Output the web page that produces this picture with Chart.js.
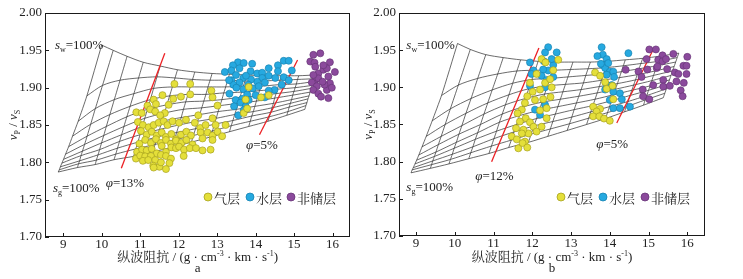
<!DOCTYPE html>
<html><head><meta charset="utf-8">
<script src="https://cdn.jsdelivr.net/npm/chart.js@4.4.0/dist/chart.umd.min.js"></script>
<style>
html,body{margin:0;padding:0;background:#fff;width:743px;height:279px;overflow:hidden}
#wa{position:absolute;left:0;top:0;width:355px;height:279px}
#wb{position:absolute;left:355px;top:0;width:388px;height:279px}
</style></head><body>
<div id="wa"><canvas id="ca"></canvas></div>
<div id="wb"><canvas id="cb"></canvas></div>
<script>
// ---------- tick labels & categories ----------
const xTicks = [9, 10, 11, 12, 13, 14, 15, 16];
const yTicks = [1.70, 1.75, 1.80, 1.85, 1.90, 1.95, 2.00];
const categories = ['气层', '水层', '非储层'];
const xTitleMain = '纵波阻抗 / (g · cm';
const panelLetters = ['a', 'b'];
const phiTextsA = ['φ=13%', 'φ=5%'];
const phiTextsB = ['φ=12%', 'φ=5%'];

// ---------- panel a : scatter ----------
const gasA = [[11.89,1.905],[12.30,1.905],[12.85,1.896],[12.88,1.887],[11.58,1.890],[11.35,1.884],[12.06,1.888],[12.30,1.891],[11.86,1.885],
[10.90,1.867],[11.04,1.866],[11.19,1.876],[11.26,1.871],[11.41,1.878],[11.39,1.868],[11.64,1.866],[11.74,1.877],[11.52,1.863],[12.51,1.863],[12.88,1.859],[13.01,1.876],
[10.94,1.854],[11.07,1.850],[11.22,1.847],[11.35,1.850],[11.48,1.853],[11.61,1.855],[11.71,1.850],[11.84,1.855],[12.01,1.853],[12.19,1.857],[12.42,1.853],[12.56,1.846],[12.70,1.850],[12.96,1.850],[13.22,1.850],
[11.02,1.842],[11.17,1.837],[11.30,1.841],[11.43,1.836],[11.56,1.840],[11.67,1.834],[11.81,1.838],[11.93,1.831],[12.06,1.837],[12.20,1.841],[12.32,1.836],[12.57,1.840],[12.75,1.840],[12.88,1.836],[13.01,1.841],[13.13,1.835],
[10.98,1.825],[11.13,1.830],[11.28,1.826],[11.41,1.831],[11.54,1.826],[11.67,1.830],[11.80,1.825],[11.93,1.829],[12.07,1.826],[12.20,1.830],[12.36,1.824],[12.62,1.832],[12.88,1.830],
[10.92,1.814],[11.05,1.817],[11.17,1.816],[11.30,1.818],[11.43,1.812],[11.56,1.822],[11.67,1.814],[11.81,1.820],[11.93,1.819],[12.01,1.821],[12.14,1.817],[12.29,1.819],[12.45,1.819],[12.62,1.816],[12.83,1.817],
[10.89,1.805],[11.00,1.809],[11.13,1.808],[11.28,1.8085],[11.39,1.803],[11.54,1.810],[11.67,1.8085],[11.80,1.805],[12.13,1.8085],
[11.07,1.802],[11.21,1.803],[11.34,1.7955],[11.50,1.794],[11.76,1.799],[11.54,1.800],[11.35,1.793],[11.67,1.791],
[13.82,1.901],[13.74,1.884],[14.14,1.887],[14.34,1.890],[13.69,1.866],[13.78,1.872]];
const waterA = [[13.54,1.934],[13.41,1.930],[13.69,1.933],[13.91,1.932],[13.58,1.926],[13.37,1.923],[13.20,1.921],[13.37,1.910],[13.49,1.917],[13.68,1.913],[13.87,1.922],[14.04,1.919],[14.17,1.920],[14.34,1.926],[14.58,1.930],[14.73,1.936],[14.86,1.936],[14.94,1.923],[14.58,1.922],[14.34,1.916],[14.17,1.913],[14.04,1.908],[13.88,1.911],[13.75,1.916],[13.58,1.907],[13.42,1.904],[13.31,1.910],[13.50,1.900],[13.68,1.898],[13.81,1.904],[13.93,1.899],[14.08,1.902],[14.24,1.907],[14.51,1.913],[14.73,1.914],[14.86,1.910],[14.68,1.904],[14.49,1.897],[14.34,1.896],[14.24,1.887],[14.00,1.890],[13.78,1.891],[13.65,1.885],[13.48,1.8835],[13.32,1.892],[13.44,1.875],[13.61,1.880],[13.74,1.875],[13.82,1.8835],[13.55,1.863],[13.69,1.870]];
const dryA = [[15.50,1.944],[15.68,1.946],[15.42,1.935],[15.53,1.9335],[15.63,1.919],[15.55,1.910],[15.46,1.907],[15.59,1.902],[15.50,1.897],[15.63,1.892],[15.70,1.888],[15.85,1.897],[15.93,1.906],[15.89,1.915],[15.76,1.924],[15.93,1.934],[16.06,1.921],[15.85,1.926],[15.76,1.930],[15.63,1.9125],[15.79,1.904],[15.50,1.917],[15.55,1.928],[15.74,1.908],[15.89,1.886],[15.98,1.900]];

// ---------- panel b : scatter ----------
const gasB = [[12.24,1.938],[12.11,1.918],[12.20,1.897],[12.33,1.906],[12.46,1.911],[12.50,1.900],[12.67,1.937],[12.47,1.887],[12.28,1.884],[12.37,1.872],[12.20,1.869],[12.07,1.883],[12.01,1.894],[11.94,1.906],[11.87,1.888],[11.81,1.879],[11.73,1.870],[11.62,1.865],[11.83,1.8585],[11.68,1.854],[11.94,1.853],[12.03,1.847],[12.24,1.847],[12.11,1.8405],[11.90,1.838],[11.77,1.843],[11.58,1.845],[11.47,1.834],[11.60,1.830],[11.73,1.838],[11.81,1.827],[11.64,1.818],[11.75,1.825],[11.87,1.819],[12.37,1.8585],[13.57,1.874],[13.75,1.871],[13.66,1.8675],[13.57,1.861],[13.73,1.861],[13.85,1.858],[14.00,1.855],[13.62,1.920],[13.75,1.9155],[13.88,1.907],[13.92,1.898],[14.07,1.902],[14.09,1.884],[12.54,1.923],[12.34,1.9335]];
const waterB = [[12.41,1.954],[12.33,1.947],[12.63,1.947],[11.94,1.9335],[12.30,1.935],[12.54,1.930],[12.03,1.9227],[12.41,1.9227],[12.28,1.924],[11.98,1.918],[12.24,1.9155],[12.37,1.910],[11.94,1.902],[12.33,1.900],[12.54,1.914],[12.33,1.8765],[12.07,1.870],[12.20,1.863],[12.50,1.938],[13.79,1.954],[13.82,1.944],[13.68,1.942],[13.92,1.938],[13.81,1.930],[13.88,1.926],[14.00,1.921],[14.09,1.921],[13.92,1.917],[14.11,1.914],[13.92,1.903],[14.05,1.903],[13.88,1.897],[14.09,1.894],[14.26,1.892],[14.00,1.883],[14.31,1.884],[14.09,1.872],[14.52,1.874],[14.26,1.872],[14.48,1.946],[13.96,1.9326],[13.77,1.9317]];
const dryB = [[15.02,1.951],[15.19,1.951],[15.36,1.943],[15.64,1.945],[16.00,1.941],[14.95,1.938],[15.25,1.937],[15.36,1.935],[14.97,1.924],[15.21,1.926],[15.48,1.9245],[15.90,1.929],[15.98,1.929],[15.68,1.920],[15.77,1.918],[15.98,1.918],[14.41,1.9236],[14.74,1.9214],[15.38,1.910],[15.72,1.908],[15.91,1.906],[14.85,1.897],[15.12,1.903],[15.38,1.901],[15.55,1.902],[14.86,1.888],[15.02,1.884],[15.83,1.896],[15.88,1.888],[15.23,1.928],[15.45,1.938],[14.82,1.914]];

// ---------- porosity reference lines ----------
const phiLinesA = [[[10.51,1.792],[11.64,1.946]], [[14.10,1.837],[15.09,1.937]]];
const phiLinesB = [[[10.95,1.800],[12.17,1.953]], [[14.18,1.852],[15.15,1.954]]];

// ---------- rock-physics template nodes (rows = saturation curves sg=100% .. sw=100%) ----------
const gridA = [
[[8.87,1.787],[9.37,1.793],[9.83,1.797],[10.32,1.8035],[10.83,1.808],[11.33,1.814],[11.83,1.820],[12.33,1.827],[12.83,1.834],[13.32,1.841],[13.82,1.848],[14.32,1.855],[14.81,1.863],[15.28,1.871]],
[[8.898,1.790],[9.398,1.798],[9.863,1.803],[10.366,1.811],[10.885,1.818],[11.388,1.824],[11.889,1.830],[12.384,1.836],[12.879,1.842],[13.365,1.849],[13.86,1.855],[14.355,1.861],[14.841,1.868],[15.307,1.876]],
[[8.926,1.794],[9.426,1.802],[9.905,1.810],[10.411,1.819],[10.94,1.827],[11.445,1.834],[11.948,1.840],[12.438,1.845],[12.928,1.851],[13.41,1.856],[13.90,1.862],[14.39,1.867],[14.872,1.874],[15.334,1.880]],
[[8.967,1.799],[9.463,1.809],[9.946,1.817],[10.464,1.828],[10.996,1.837],[11.503,1.844],[12.007,1.850],[12.492,1.855],[12.977,1.859],[13.455,1.864],[13.94,1.868],[14.425,1.873],[14.903,1.879],[15.361,1.885]],
[[9.008,1.804],[9.50,1.815],[9.996,1.826],[10.518,1.837],[11.058,1.848],[11.567,1.855],[12.066,1.860],[12.546,1.864],[13.026,1.868],[13.50,1.871],[13.98,1.875],[14.46,1.879],[14.934,1.884],[15.388,1.889]],
[[9.062,1.811],[9.556,1.824],[10.054,1.836],[10.578,1.848],[11.12,1.859],[11.631,1.866],[12.125,1.871],[12.60,1.873],[13.075,1.876],[13.545,1.879],[14.02,1.882],[14.495,1.886],[14.965,1.890],[15.415,1.894]],
[[9.141,1.821],[9.621,1.835],[10.12,1.848],[10.654,1.861],[11.189,1.871],[11.695,1.877],[12.184,1.881],[12.654,1.882],[13.124,1.884],[13.59,1.887],[14.06,1.889],[14.53,1.892],[14.996,1.895],[15.442,1.899]],
[[9.242,1.835],[9.714,1.851],[10.212,1.864],[10.738,1.875],[11.265,1.884],[11.765,1.889],[12.243,1.891],[12.708,1.891],[13.173,1.893],[13.635,1.894],[14.10,1.896],[14.565,1.898],[15.027,1.900],[15.469,1.903]],
[[9.389,1.855],[9.835,1.872],[10.328,1.884],[10.837,1.892],[11.348,1.899],[11.836,1.901],[12.302,1.901],[12.762,1.901],[13.222,1.901],[13.68,1.902],[14.14,1.902],[14.60,1.904],[15.058,1.905],[15.496,1.908]],
[[9.615,1.889],[10.021,1.903],[10.477,1.910],[10.958,1.913],[11.437,1.9145],[11.906,1.913],[12.361,1.911],[12.816,1.910],[13.271,1.910],[13.725,1.909],[14.18,1.909],[14.635,1.910],[15.089,1.911],[15.523,1.912]],
[[10.00,1.957],[10.30,1.950],[10.66,1.942],[11.08,1.934],[11.52,1.929],[11.97,1.924],[12.42,1.921],[12.87,1.919],[13.32,1.918],[13.77,1.917],[14.22,1.916],[14.67,1.916],[15.12,1.916],[15.55,1.917]]
];
const gridB = [
[[8.87,1.785],[9.37,1.791],[9.85,1.797],[10.36,1.804],[10.88,1.811],[11.39,1.819],[11.90,1.826],[12.40,1.834],[12.90,1.842],[13.40,1.850],[13.89,1.858],[14.38,1.867],[14.87,1.876],[15.38,1.886]],
[[8.90,1.789],[9.401,1.796],[9.888,1.803],[10.413,1.812],[10.946,1.821],[11.458,1.829],[11.97,1.837],[12.465,1.844],[12.96,1.851],[13.455,1.8585],[13.941,1.866],[14.427,1.874],[14.913,1.883],[15.42,1.892]],
[[8.929,1.792],[9.432,1.801],[9.936,1.810],[10.467,1.820],[11.011,1.831],[11.527,1.840],[12.04,1.848],[12.53,1.854],[13.02,1.860],[13.51,1.867],[13.992,1.874],[14.474,1.881],[14.956,1.889],[15.46,1.898]],
[[8.972,1.797],[9.473,1.807],[9.983,1.818],[10.529,1.830],[11.077,1.841],[11.595,1.850],[12.11,1.858],[12.595,1.864],[13.08,1.870],[13.565,1.8755],[14.043,1.882],[14.521,1.889],[14.999,1.896],[15.50,1.904]],
[[9.015,1.802],[9.514,1.813],[10.04,1.826],[10.591,1.839],[11.151,1.853],[11.671,1.862],[12.18,1.869],[12.66,1.874],[13.14,1.879],[13.62,1.884],[14.094,1.890],[14.568,1.896],[15.042,1.902],[15.54,1.910]],
[[9.072,1.809],[9.576,1.823],[10.107,1.837],[10.663,1.850],[11.224,1.864],[11.747,1.8735],[12.25,1.880],[12.725,1.884],[13.20,1.888],[13.675,1.8925],[14.145,1.8975],[14.615,1.903],[15.085,1.909],[15.58,1.916]],
[[9.155,1.820],[9.648,1.834],[10.183,1.8485],[10.752,1.864],[11.306,1.8765],[11.823,1.885],[12.32,1.891],[12.79,1.894],[13.26,1.897],[13.73,1.901],[14.196,1.905],[14.662,1.910],[15.128,1.916],[15.62,1.922]],
[[9.262,1.834],[9.751,1.850],[10.287,1.865],[10.85,1.879],[11.397,1.890],[11.907,1.898],[12.39,1.902],[12.855,1.904],[13.32,1.906],[13.785,1.9095],[14.247,1.913],[14.709,1.917],[15.171,1.922],[15.66,1.928]],
[[9.417,1.855],[9.885,1.871],[10.42,1.885],[10.965,1.8965],[11.495,1.9055],[11.99,1.9106],[12.46,1.912],[12.92,1.914],[13.38,1.916],[13.84,1.918],[14.298,1.921],[14.756,1.925],[15.214,1.929],[15.70,1.934]],
[[9.657,1.889],[10.091,1.903],[10.591,1.912],[11.108,1.918],[11.602,1.922],[12.074,1.923],[12.53,1.923],[12.985,1.924],[13.44,1.925],[13.895,1.9265],[14.349,1.929],[14.803,1.932],[15.257,1.935],[15.74,1.940]],
[[10.07,1.959],[10.40,1.951],[10.80,1.944],[11.25,1.940],[11.70,1.937],[12.15,1.935],[12.60,1.934],[13.05,1.934],[13.50,1.934],[13.95,1.935],[14.40,1.937],[14.85,1.939],[15.30,1.942],[15.78,1.946]]
];

// ---------- rendering ----------
const SERIF = "'Liberation Serif','Times New Roman',serif";
const CJK = "'Noto Serif CJK SC','Noto Sans CJK SC',sans-serif";
Chart.defaults.font.family = SERIF;
const COLORS = [
  {fill:'#e4df3a', line:'#a7a21e'},
  {fill:'#26a9e0', line:'#1784b3'},
  {fill:'#8b4a9c', line:'#683579'}
];
const toPts = arr => arr.map(p => ({x:p[0], y:p[1]}));

function drawPieces(ctx, pieces, x, y, align){
  let w = 0;
  pieces.forEach(p => { ctx.font = p.f; p.w = ctx.measureText(p.t).width; w += p.w; });
  let cx = align === 'center' ? x - w/2 : x;
  pieces.forEach(p => { ctx.font = p.f; ctx.fillText(p.t, cx, y + (p.dy||0)); cx += p.w; });
}

function makePanel(id, o){
  const ds = [];
  [o.gas, o.water, o.dry].forEach((arr, k) => ds.push({
    label: categories[k], data: toPts(arr), backgroundColor: COLORS[k].fill, borderColor: COLORS[k].line,
    borderWidth: 0.7, pointRadius: 3.5, order: 0
  }));
  o.phi.forEach(seg => ds.push({data: toPts(seg), showLine:true, borderColor:'#ec2024', borderWidth:1.3, pointRadius:0, order:1}));
  o.grid.forEach(row => ds.push({data: toPts(row), showLine:true, borderColor:'#2b2b2b', borderWidth:0.7, pointRadius:0, tension:0.3, order:2}));
  for (let j = 0; j < o.grid[0].length; j++) {
    ds.push({data: toPts(o.grid.map(r => r[j])), showLine:true, borderColor:'#2b2b2b', borderWidth:0.7, pointRadius:0, tension:0.2, order:2});
  }
  const plugin = {
    id: 'deco' + id,
    afterDraw(chart){
      const ctx = chart.ctx, ca = chart.chartArea, xs = chart.scales.x, ys = chart.scales.y;
      ctx.save();
      ctx.strokeStyle = '#1a1a1a'; ctx.lineWidth = 1;
      ctx.strokeRect(Math.round(ca.left)+0.5, Math.round(ca.top)+0.5, Math.round(ca.right-ca.left)-1, Math.round(ca.bottom-ca.top)-1);
      ctx.beginPath();
      xTicks.forEach(v => { const px = Math.round(xs.getPixelForValue(v))+0.5; ctx.moveTo(px, ca.bottom); ctx.lineTo(px, ca.bottom-4); });
      yTicks.forEach(v => { const py = Math.round(ys.getPixelForValue(v))+0.5; ctx.moveTo(ca.left, py); ctx.lineTo(ca.left+4, py); });
      ctx.stroke();
      ctx.fillStyle = '#222'; ctx.textBaseline = 'alphabetic'; ctx.textAlign = 'left';
      // x axis title
      const cxm = (ca.left + ca.right)/2;
      drawPieces(ctx, [
        {t: xTitleMain.slice(0,4), f: '13px ' + CJK},
        {t: xTitleMain.slice(4), f: '13px ' + SERIF},
        {t: '-3', f: '8px ' + SERIF, dy: -5},
        {t: ' · km · s', f: '13px ' + SERIF},
        {t: '-1', f: '8px ' + SERIF, dy: -5},
        {t: ')', f: '13px ' + SERIF}
      ], cxm, 261, 'center');
      ctx.font = '13px ' + SERIF; ctx.textAlign = 'center';
      ctx.fillText(o.letter, cxm, 272);
      ctx.textAlign = 'left';
      // y axis title
      ctx.save();
      ctx.translate(o.yTitleX, (ca.top + ca.bottom)/2);
      ctx.rotate(-Math.PI/2);
      drawPieces(ctx, [
        {t:'v', f:'italic 13px ' + SERIF},
        {t:'P', f:'8px ' + SERIF, dy: 3},
        {t:' / ', f:'13px ' + SERIF},
        {t:'v', f:'italic 13px ' + SERIF},
        {t:'S', f:'8px ' + SERIF, dy: 3}
      ], 0, 4, 'center');
      ctx.restore();
      // saturation end labels
      drawPieces(ctx, [{t:'s', f:'italic 13px '+SERIF},{t:'w', f:'8px '+SERIF, dy:3},{t:'=100%', f:'13px '+SERIF}],
        xs.getPixelForValue(o.swPos[0]), ys.getPixelForValue(o.swPos[1]), 'left');
      drawPieces(ctx, [{t:'s', f:'italic 13px '+SERIF},{t:'g', f:'8px '+SERIF, dy:3},{t:'=100%', f:'13px '+SERIF}],
        xs.getPixelForValue(o.sgPos[0]), ys.getPixelForValue(o.sgPos[1]), 'left');
      // porosity labels
      o.phiText.forEach((t, k) => {
        drawPieces(ctx, [{t:t[0], f:'italic 13px '+SERIF},{t:t.slice(1), f:'13px '+SERIF}],
          xs.getPixelForValue(o.phiPos[k][0]), ys.getPixelForValue(o.phiPos[k][1]), 'left');
      });
      // legend
      o.legendX.forEach((lx, k) => {
        ctx.beginPath(); ctx.arc(lx, o.legendY, 4, 0, Math.PI*2);
        ctx.fillStyle = COLORS[k].fill; ctx.fill();
        ctx.lineWidth = 0.8; ctx.strokeStyle = COLORS[k].line; ctx.stroke();
        ctx.fillStyle = '#222'; ctx.font = '13px ' + CJK; ctx.textBaseline = 'middle';
        ctx.fillText(categories[k], lx + 6, o.legendY + 1);
        ctx.textBaseline = 'alphabetic';
      });
      ctx.restore();
    }
  };
  return new Chart(document.getElementById(id), {
    type: 'scatter',
    data: {datasets: ds},
    options: {
      responsive: true, maintainAspectRatio: false, animation: false, devicePixelRatio: 1,
      layout: {padding: {left: 0, top: 13, right: o.padRight, bottom: 0}},
      plugins: {legend: {display: false}, tooltip: {enabled: false}},
      scales: {
        x: {type:'linear', min:o.xMin, max:o.xMax,
            afterBuildTicks: s => { s.ticks = xTicks.map(v => ({value: v})); },
            afterFit: s => { s.height = o.xH; },
            grid: {display:false, drawTicks:false}, border: {display:false},
            ticks: {padding: 0, color:'#222', font:{size:13}, maxRotation:0, autoSkip:false, callback: v => String(v)}},
        y: {type:'linear', min:1.70, max:2.00,
            afterBuildTicks: s => { s.ticks = yTicks.map(v => ({value: v})); },
            afterFit: s => { s.width = o.yW; },
            grid: {display:false, drawTicks:false}, border: {display:false},
            ticks: {padding: 3, color:'#222', font:{size:13}, autoSkip:false, callback: v => Number(v).toFixed(2)}}
      }
    },
    plugins: [plugin]
  });
}

makePanel('ca', {gas:gasA, water:waterA, dry:dryA, phi:phiLinesA, grid:gridA, letter:panelLetters[0],
  xMin:8.527, xMax:16.46, xH:42, yW:45, padRight:3, yTitleX:13,
  swPos:[8.785,1.952], sgPos:[8.734,1.760], phiText:phiTextsA, phiPos:[[10.106,1.767],[13.75,1.818]],
  legendX:[208,250,291], legendY:197});
makePanel('cb', {gas:gasB, water:waterB, dry:dryB, phi:phiLinesB, grid:gridB, letter:panelLetters[1],
  xMin:8.56, xMax:16.457, xH:43, yW:44, padRight:38, yTitleX:13,
  swPos:[8.75,1.952], sgPos:[8.75,1.760], phiText:phiTextsB, phiPos:[[10.53,1.776],[13.65,1.818]],
  legendX:[206,248,290], legendY:197});
</script>
</body></html>
